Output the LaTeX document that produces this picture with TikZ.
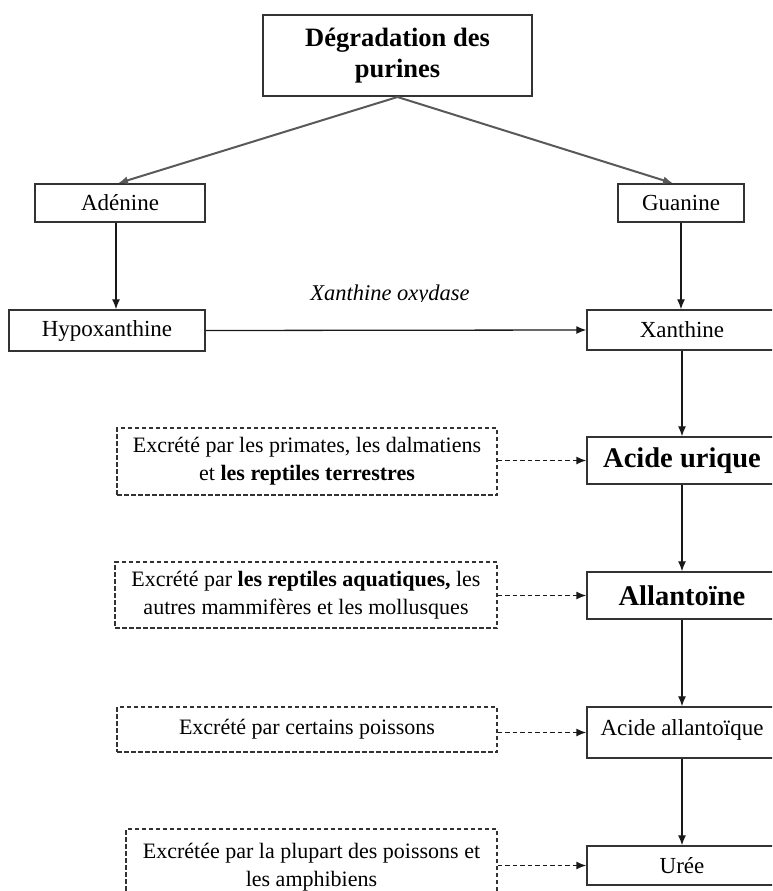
\documentclass[tikz,border=0pt]{standalone}
\usepackage{fontspec}
\setmainfont{Liberation Serif}
\usetikzlibrary{arrows.meta}
\begin{document}
\begin{tikzpicture}[x=1pt,y=-1pt,
  box/.style={draw=black!80, line width=1.4pt, inner sep=0pt, align=center, font=\fontsize{23}{27}\selectfont},
  bigbox/.style={box, font=\fontsize{28.5}{32}\selectfont\bfseries},
  dbox/.style={draw=black!80, line width=1.3pt, dash pattern=on 4.5pt off 2.5pt, inner sep=0pt, align=center, font=\fontsize{22}{28}\selectfont},
  arr/.style={draw=black!90, line width=1.3pt, -{Latex[length=10pt,width=8pt]}},
  darr/.style={arr, line width=1.4pt, dash pattern=on 4.5pt off 3pt},
  gline/.style={draw=black!65, line width=2pt, -{Latex[length=10pt,width=8pt]}}
]
\useasboundingbox (0,0) rectangle (772,891);
\clip (0,0) rectangle (772,891);

% top
\node[box, line width=2pt, minimum width=269pt, minimum height=81pt, font=\fontsize{26.5}{31}\selectfont\bfseries] (title) at (397.5,55.5) {Dégradation des\\purines};
\node[box, minimum width=170pt, minimum height=38pt] (ade) at (120,203) {Adénine};
\node[box, minimum width=126pt, minimum height=38pt] (gua) at (681,203) {Guanine};
\node[box, minimum width=196pt, minimum height=41pt] (hyp) at (107,330.5) {Hypoxanthine};

% right column
\node[box, minimum width=190pt, minimum height=40pt] (xan) at (682,330) {Xanthine};
\node[bigbox, minimum width=190pt, minimum height=47pt] (au) at (682,460.5) {Acide urique};
\node[bigbox, minimum width=190pt, minimum height=47pt] (all) at (682,595.5) {Allantoïne};
\node[box, minimum width=190pt, minimum height=51pt, text depth=9pt] (aa) at (682,732.5) {Acide allantoïque};
\node[box, minimum width=190pt, minimum height=39pt] (ur) at (682,865.5) {Urée};

% dashed boxes
\node[dbox, minimum width=380pt, minimum height=67pt] (d1) at (307,461.5) {Excrété par les primates, les dalmatiens\\et \textbf{les reptiles terrestres}};
\node[dbox, minimum width=382pt, minimum height=66pt] (d2) at (306,595) {Excrété par \textbf{les reptiles aquatiques,} les\\autres mammifères et les mollusques};
\node[dbox, minimum width=380pt, minimum height=45pt] (d3) at (307,729.5) {Excrété par certains poissons};
\node[dbox, minimum width=371pt, minimum height=76pt] (d4) at (311.5,867) {Excrétée par la plupart des poissons et\\les amphibiens};

% enzyme label (descender clipped as in the picture)
\begin{scope}
\clip (200,260) rectangle (600,301.5);
\node[anchor=base, inner sep=0pt, font=\fontsize{22.5}{27}\selectfont\itshape] (enz) at (390,300) {Xanthine oxydase};
\end{scope}

% connectors
\draw[gline] (title.south) -- ([xshift=-2pt]ade.north);
\draw[gline] (title.south) -- ([xshift=-8pt]gua.north);
\draw[arr] ([xshift=-4pt]ade.south) -- ([xshift=-4pt]ade.south |- hyp.north);
\draw[arr] (gua.south) -- (gua.south |- xan.north);
\draw[arr] (hyp.east) -- (xan.west);
\draw[arr] (xan.south) -- (au.north);
\draw[arr] (au.south) -- (all.north);
\draw[arr] (all.south) -- (aa.north);
\draw[arr] (aa.south) -- (ur.north);

\draw[darr] (d1.east |- au.west) -- (au.west);
\draw[darr] (d2.east |- all.west) -- (all.west);
\draw[darr] (d3.east |- aa.west) -- (aa.west);
\draw[darr] (d4.east |- ur.west) -- (ur.west);
\end{tikzpicture}
\end{document}
